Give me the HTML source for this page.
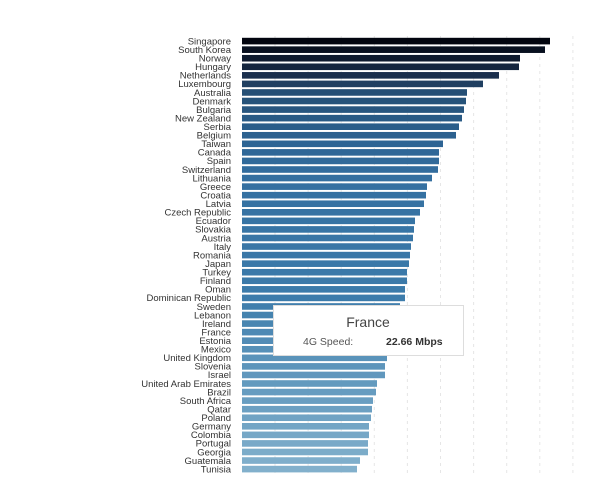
<!DOCTYPE html>
<html><head><meta charset="utf-8"><style>
body{margin:0;background:#fff;width:600px;height:474px;overflow:hidden;font-family:"Liberation Sans",sans-serif;}
</style></head><body>
<svg width="600" height="474" xmlns="http://www.w3.org/2000/svg" font-family="Liberation Sans, sans-serif">
<g id="grid" stroke="#e6e6e6" stroke-dasharray="3,4" stroke-width="1"></g>
<g id="bars"></g>
<g id="labels" font-size="9.5" fill="#333" text-anchor="end"></g>
<rect x="273.5" y="305.5" width="190" height="50" fill="#fff" stroke="#ddd"/>
<text x="368" y="327" font-size="14" fill="#444" text-anchor="middle">France</text>
<text x="303" y="345" font-size="10.5" fill="#555">4G Speed:</text>
<text x="386" y="345" font-size="10.5" font-weight="bold" fill="#333">22.66 Mbps</text>
</svg>
<script>
var d=[["Singapore",550],["South Korea",545],["Norway",520],["Hungary",519],["Netherlands",499],["Luxembourg",483],["Australia",467],["Denmark",466],["Bulgaria",464],["New Zealand",462],["Serbia",459],["Belgium",456],["Taiwan",443],["Canada",439],["Spain",439],["Switzerland",438],["Lithuania",432],["Greece",427],["Croatia",426],["Latvia",424],["Czech Republic",420],["Ecuador",415],["Slovakia",414],["Austria",413],["Italy",411],["Romania",410],["Japan",409],["Turkey",407],["Finland",407],["Oman",405],["Dominican Republic",405],["Sweden",400],["Lebanon",398],["Ireland",396],["France",394],["Estonia",392],["Mexico",390],["United Kingdom",387],["Slovenia",385],["Israel",385],["United Arab Emirates",377],["Brazil",376],["South Africa",373],["Qatar",372],["Poland",371],["Germany",369],["Colombia",369],["Portugal",368],["Georgia",368],["Guatemala",360],["Tunisia",357]];
var stops=[[0,[2,5,15]],[4,[26,47,77]],[6,[37,79,117]],[12,[45,100,148]],[16,[52,111,160]],[30,[61,124,171]],[37,[90,147,186]],[50,[130,176,204]]];
function col(i){for(var k=0;k<stops.length-1;k++){var a=stops[k],b=stops[k+1];if(i>=a[0]&&i<=b[0]){var t=(i-a[0])/(b[0]-a[0]);return "rgb("+a[1].map(function(v,j){return Math.round(v+(b[1][j]-v)*t)}).join(",")+")";}}}
var ns="http://www.w3.org/2000/svg",B=document.getElementById("bars"),L=document.getElementById("labels"),G=document.getElementById("grid");
for(var x=275;x<600;x+=33.1){var l=document.createElementNS(ns,"line");l.setAttribute("x1",x);l.setAttribute("x2",x);l.setAttribute("y1",36);l.setAttribute("y2",474);G.appendChild(l);}
d.forEach(function(r,i){var y=41+i*8.56;var b=document.createElementNS(ns,"rect");b.setAttribute("x",242);b.setAttribute("y",y-3.2);b.setAttribute("width",r[1]-242);b.setAttribute("height",6.6);b.setAttribute("fill",col(i));B.appendChild(b);
var t=document.createElementNS(ns,"text");t.setAttribute("x",231);t.setAttribute("y",y+3.4);t.textContent=r[0];L.appendChild(t);});
</script>
</body></html>
